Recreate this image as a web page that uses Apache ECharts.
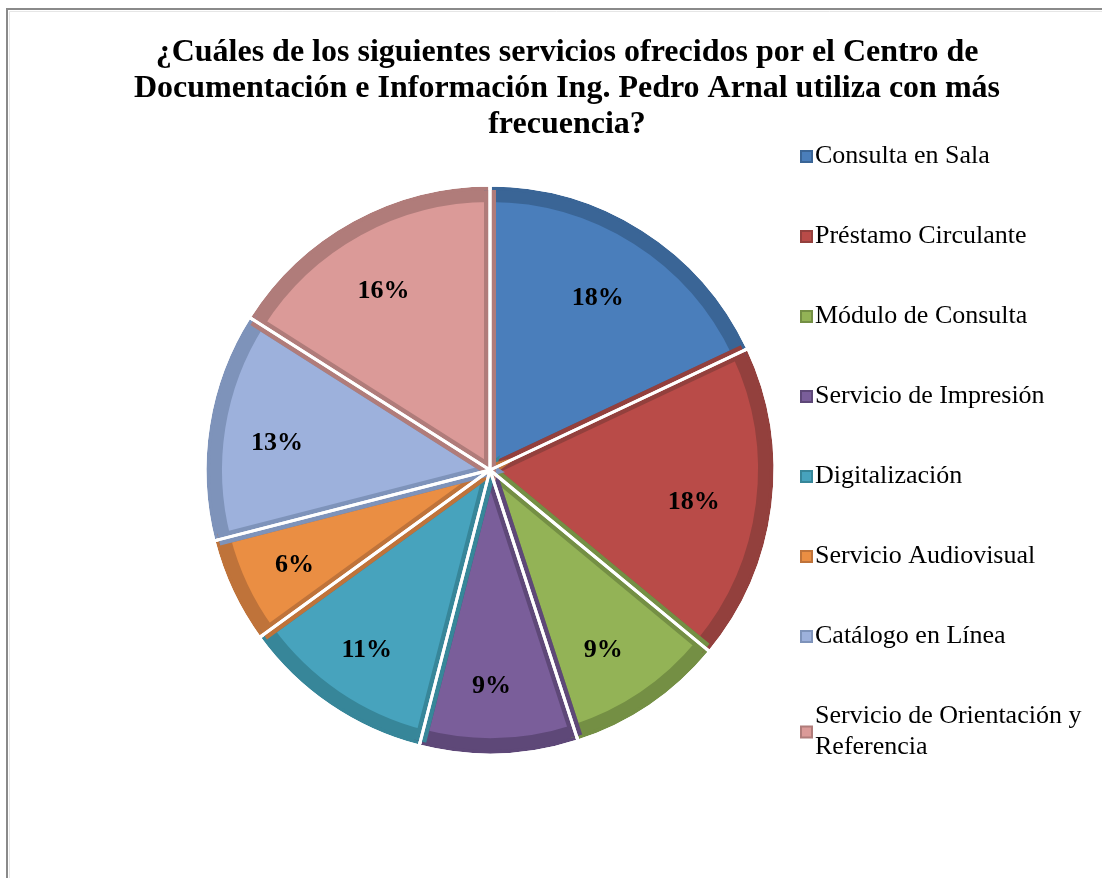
<!DOCTYPE html>
<html>
<head>
<meta charset="utf-8">
<script src="https://cdn.jsdelivr.net/npm/echarts@6/dist/echarts.min.js"></script>
<style>
html,body{margin:0;padding:0;background:#fff;}
#chart{width:1102px;height:878px;}
</style>
</head>
<body>
<div id="chart"></div>
<script>
var categories = ['Consulta en Sala','Préstamo Circulante','Módulo de Consulta','Servicio de Impresión','Digitalización','Servicio Audiovisual','Catálogo en Línea','Servicio de Orientación y Referencia'];
var values = [18, 18, 9, 9, 11, 6, 13, 16];
var faceColors = ['#4A7EBB','#B94B48','#93B356','#7A5E9A','#47A3BD','#EA8E43','#9DB1DC','#DB9A98'];
var rimColors = ['#3A6596','#93403D','#748F44','#5E4878','#378699','#BF733A','#7E93BA','#B07C7A'];
var titleText = '¿Cuáles de los siguientes servicios ofrecidos por el Centro de\nDocumentación e Información Ing. Pedro Arnal utiliza con más\nfrecuencia?';

var chart = echarts.init(document.getElementById('chart'), null, {renderer:'canvas'});
var clear = 'rgba(0,0,0,0)';
function mk(colors, border){
  return categories.map(function(n,i){
    var st = {color: colors ? colors[i] : clear};
    if (border) { st.borderColor = border[i]; }
    return {name:n, value:values[i], itemStyle:st};
  });
}
var CX = 490, CY = 470, R = 285;
var option = {
  backgroundColor:'#ffffff',
  animation:false,
  title:{
    text:titleText,
    left:562, top:30, textAlign:'center',
    textStyle:{fontFamily:'Liberation Serif', fontSize:32, fontWeight:'bold', color:'#000', lineHeight:36}
  },
  legend:{
    orient:'vertical', left:795, top:136,
    icon:'rect', itemWidth:11, itemHeight:11, itemGap:49,
    formatter:function(name){ return name.replace('y Referencia','y\nReferencia'); },
    textStyle:{fontFamily:'Liberation Serif', fontSize:26, color:'#000', lineHeight:31, padding:[0,0,0,-2]},
    data:categories
  },
  graphic:[
    {type:'rect', shape:{x:7, y:9, width:1200, height:1000}, style:{fill:'none', stroke:'#8a8a8a', lineWidth:2}, silent:true, z:-10},
    {type:'rect', shape:{x:9.5, y:11.5, width:1200, height:1000}, style:{fill:'none', stroke:'#e6e6e6', lineWidth:1}, silent:true, z:-10}
  ],
  series:[
    {
      type:'pie', name:'face', center:[CX,CY], radius:[0,R-11], startAngle:90, clockwise:true,
      z:3, silent:true,
      label:{show:false}, labelLine:{show:false},
      itemStyle:{borderWidth:12, borderJoin:'miter'},
      data:mk(faceColors, rimColors)
    },
    {
      type:'pie', name:'rim', center:[CX,CY], radius:[0,R], startAngle:90, clockwise:true,
      z:1, silent:true,
      label:{show:false}, labelLine:{show:false},
      itemStyle:{borderColor:'#ffffff', borderWidth:3},
      data:mk(rimColors)
    },
    {
      type:'pie', name:'sep', center:[CX,CY], radius:[0,R], startAngle:90, clockwise:true,
      z:4, silent:true,
      label:{show:false}, labelLine:{show:false},
      itemStyle:{borderColor:'#ffffff', borderWidth:3},
      data:mk(null)
    },
    {
      type:'pie', name:'labels', center:[CX,CY], radius:[130,R], startAngle:90, clockwise:true,
      z:5, silent:true,
      itemStyle:{borderWidth:0},
      labelLine:{show:false},
      label:{show:true, position:'inside', offset:[-5,6], color:'#000', fontFamily:'Liberation Serif', fontSize:26, fontWeight:'bold',
        formatter:function(p){ return Math.round(p.percent) + '%'; }},
      data:mk(null)
    }
  ]
};
chart.setOption(option);
</script>
</body>
</html>
